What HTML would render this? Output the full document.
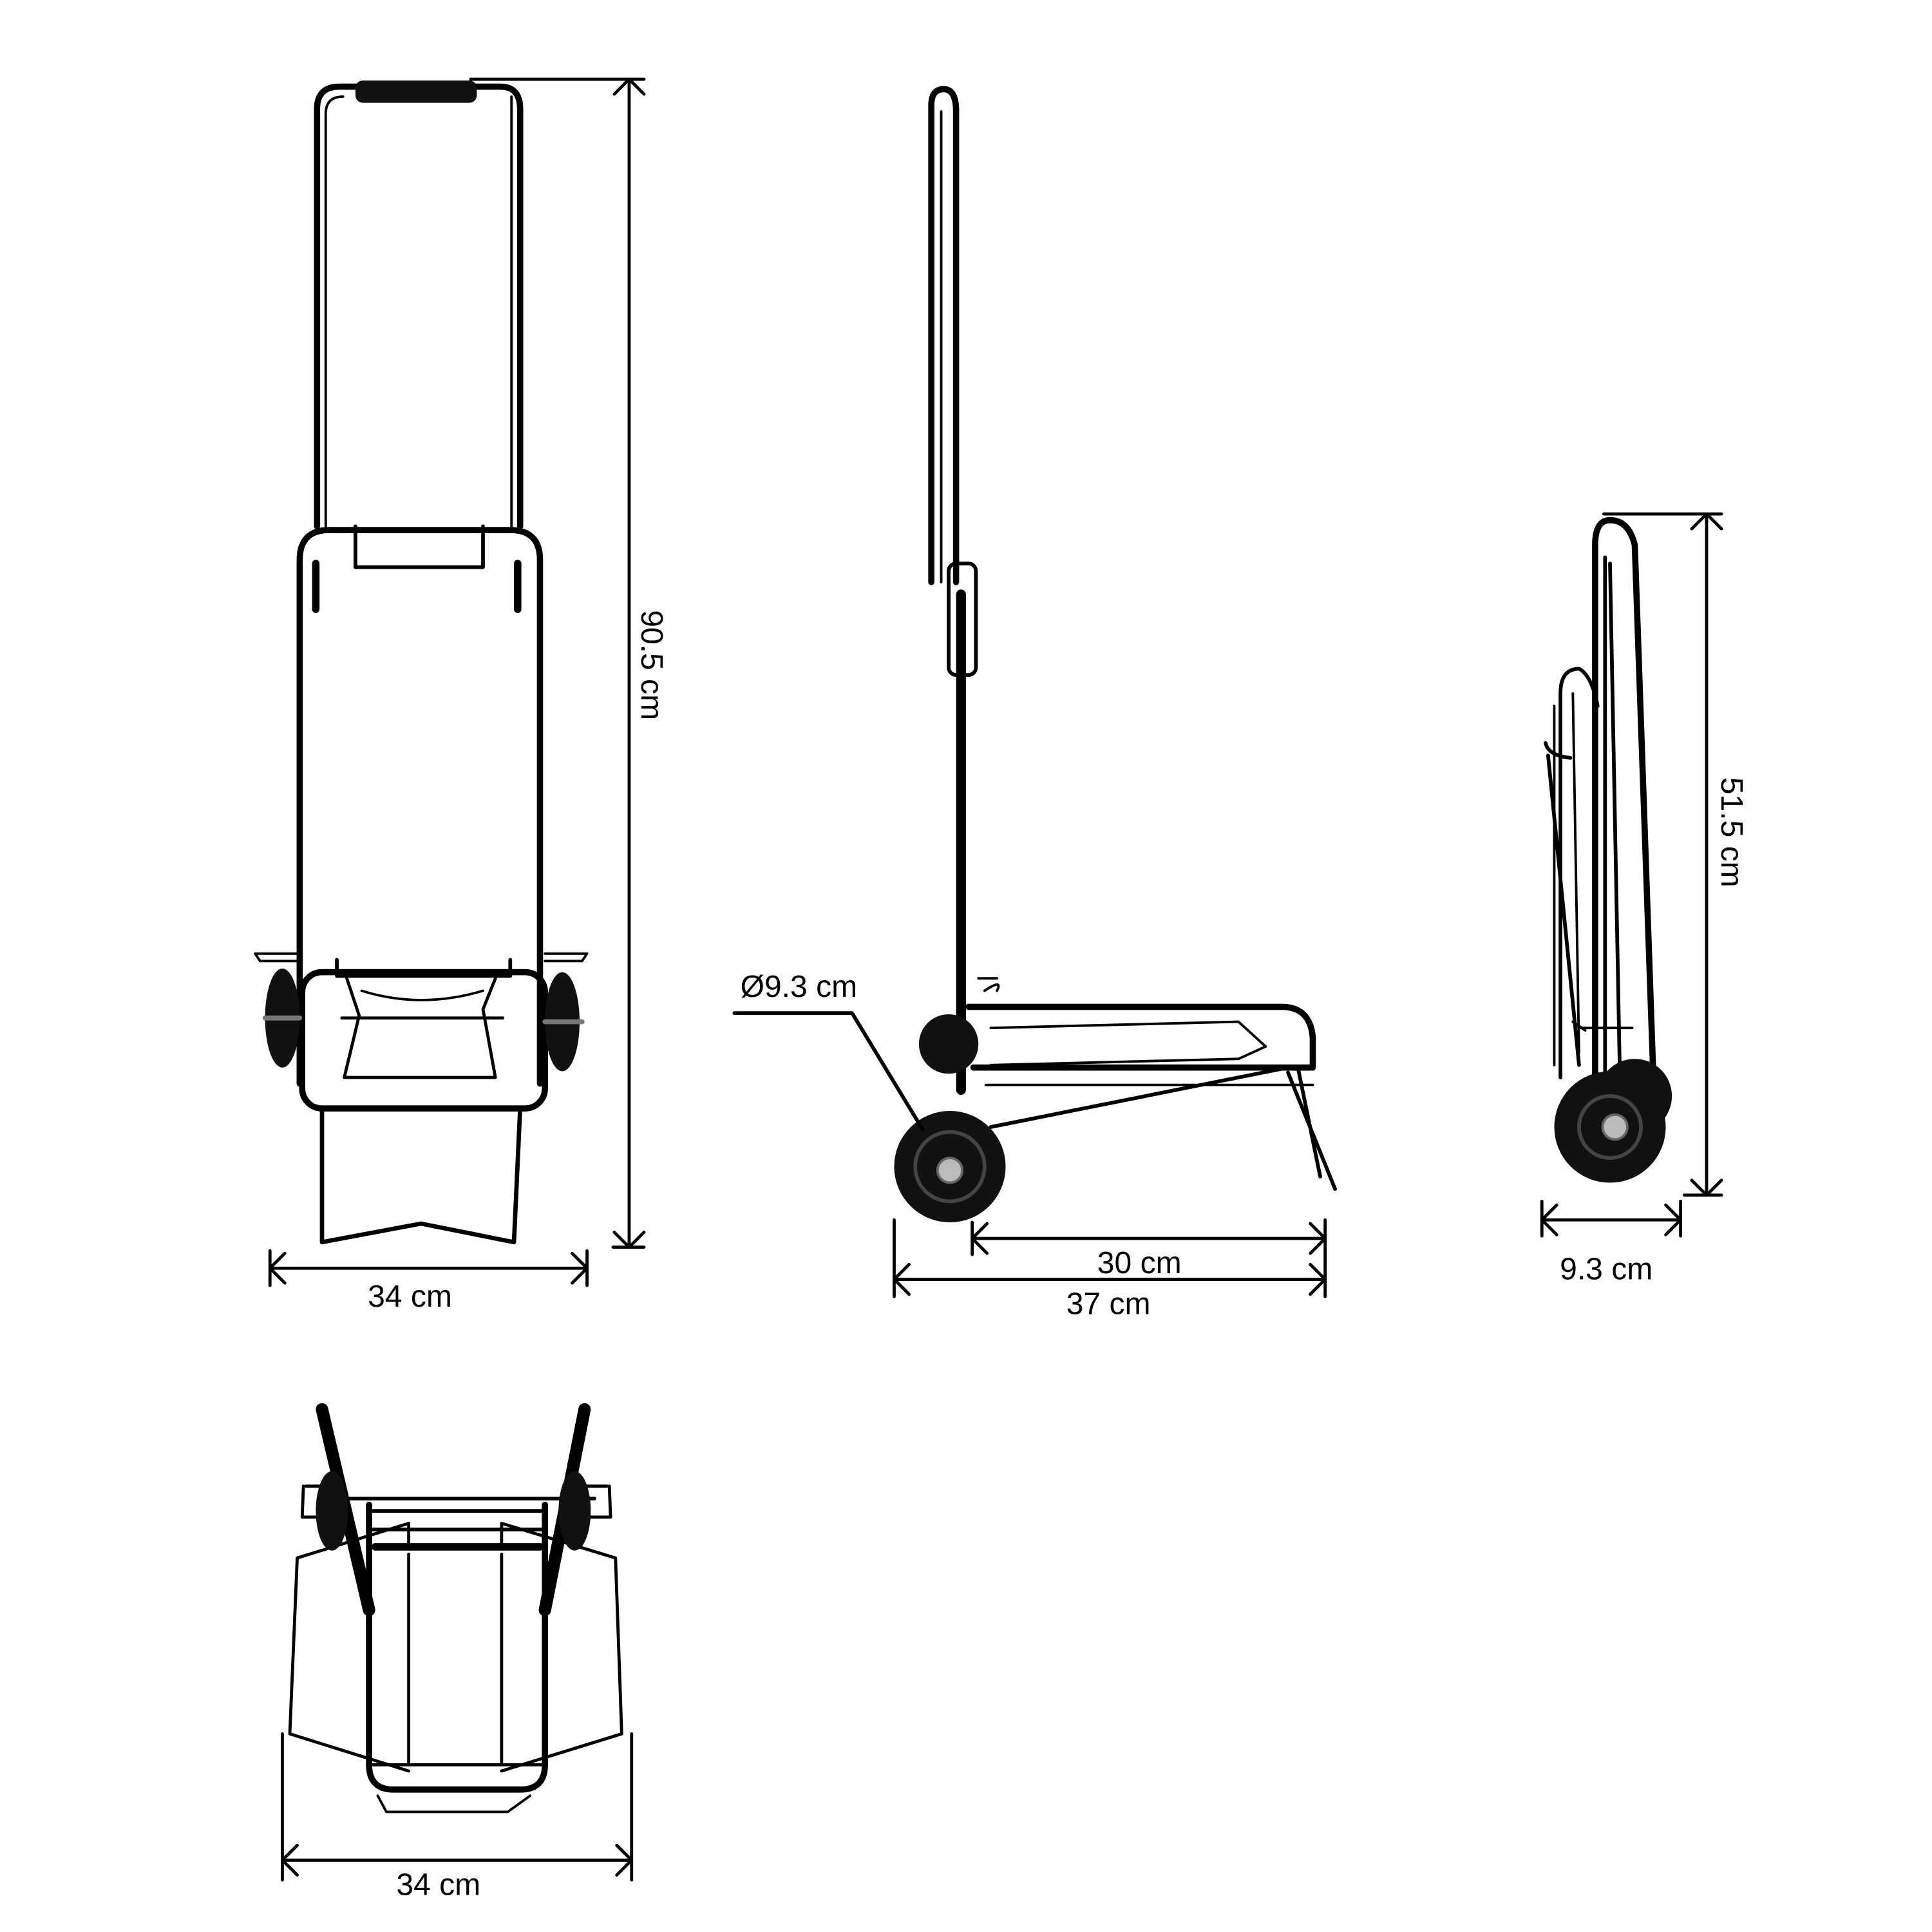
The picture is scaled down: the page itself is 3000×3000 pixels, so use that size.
<!DOCTYPE html>
<html><head><style>
html,body{margin:0;padding:0;background:#fff;}
svg{display:block;}
text{font-family:"Liberation Sans",sans-serif;fill:#000;}
</style></head><body>
<svg width="3000" height="3000" viewBox="0 0 1560 1560" xmlns="http://www.w3.org/2000/svg">
<rect width="1560" height="1560" fill="#fff"/>
<g fill="none" stroke="#000" stroke-linecap="round" stroke-linejoin="round">
<!-- FRONT VIEW -->
<path d="M256 425 V88 Q256 70 274 70 H404 Q420 70 420 88 V425" stroke-width="5"/>
<path d="M263 425 V92 Q263 78 277 78 M413 78 Q413 80 413 92 V425" stroke-width="2"/>
<rect x="287" y="65" width="98" height="18" rx="6" fill="#111" stroke="none"/>
<path d="M242 875 V452 Q242 428 266 428 H412 Q436 428 436 452 V875" stroke-width="5"/>
<path d="M287 425 V458 H390 V425" stroke-width="3"/>
<path d="M255 455 V492 M418 455 V492" stroke-width="6"/>
<path d="M272 775 V788 H412 V775" stroke-width="3"/>
<path d="M206 770 H240 M440 770 H474 M206 770 L210 776 H240 M474 770 L470 776 H440" stroke-width="2"/>
<rect x="244" y="785" width="196" height="110" rx="16" stroke-width="5"/>
<path d="M280 790 L290 820 L278 870 H400 L390 815 L400 790 M276 822 H406" stroke-width="2.5"/>
<path d="M292 800 Q340 815 390 800" stroke-width="2"/>
<ellipse cx="228" cy="822" rx="14" ry="40" fill="#111" stroke="none"/>
<ellipse cx="454" cy="825" rx="14" ry="40" fill="#111" stroke="none"/>
<path d="M214 822 H242 M440 825 H470" stroke-width="4" stroke="#777"/>
<path d="M260 895 V1003 L340 988 L415 1003 L420 895" stroke-width="3.5"/>
<!-- dims front -->
<path d="M508 64 V1007 M380 64 H520 M495 1007 H520 M496 76 L508 64 L520 76 M496 995 L508 1007 L520 995" stroke-width="2.5"/>
<path d="M218 1024 H474 M218 1010 V1038 M474 1010 V1038 M230 1012 L218 1024 L230 1036 M462 1012 L474 1024 L462 1036" stroke-width="2.5"/>
<!-- SIDE VIEW -->
<path d="M752 470 V85 Q752 72 762 72 Q772 72 772 90 V470" stroke-width="5"/>
<path d="M760 470 V90" stroke-width="2"/>
<path d="M776 480 V880" stroke-width="8"/>
<rect x="766" y="455" width="22" height="90" rx="6" stroke-width="3"/>
<path d="M782 813 H1035 Q1058 813 1060 838 V862 H786" stroke-width="5"/>
<path d="M800 830 L1000 825 L1022 845 L1000 855 L800 860 M796 876 H1060" stroke-width="2"/>
<path d="M790 790 H805 M795 800 Q810 790 805 800" stroke-width="2"/>
<path d="M1040 866 L1078 960 M1048 862 L1066 950" stroke-width="3"/>
<path d="M800 910 L1040 862" stroke-width="3"/>
<circle cx="766" cy="843" r="24" fill="#111" stroke="none"/>
<circle cx="767" cy="942" r="45" fill="#111" stroke="none"/>
<circle cx="767" cy="942" r="28" stroke="#444" stroke-width="3"/>
<circle cx="767" cy="945" r="10" fill="#bbb" stroke="#666" stroke-width="2"/>
<path d="M593 818 H688 L745 912" stroke-width="3"/>
<path d="M785 1000 H1070 M785 987 V1013 M1070 985 V1047 M797 988 L785 1000 L797 1012 M1058 988 L1070 1000 L1058 1012" stroke-width="2.5"/>
<path d="M722 1033 H1070 M722 985 V1047 M734 1021 L722 1033 L734 1045 M1058 1021 L1070 1033 L1058 1045" stroke-width="2.5"/>
<!-- FOLDED VIEW -->
<path d="M1288 870 V440 Q1288 420 1300 420 Q1315 420 1320 440 L1335 870" stroke-width="5"/>
<path d="M1296 870 V450 M1308 870 L1300 455" stroke-width="3"/>
<path d="M1260 870 V560 Q1260 540 1275 540 Q1285 545 1290 570 M1250 610 L1275 860 M1248 600 Q1250 610 1268 612" stroke-width="3"/>
<path d="M1255 570 V860 M1270 560 L1275 850" stroke-width="2"/>
<path d="M1275 830 H1318 M1270 825 L1280 832" stroke-width="2"/>
<circle cx="1320" cy="885" r="30" fill="#111" stroke="none"/>
<circle cx="1300" cy="910" r="45" fill="#111" stroke="none"/>
<circle cx="1300" cy="910" r="25" stroke="#444" stroke-width="3"/>
<circle cx="1304" cy="910" r="10" fill="#bbb" stroke="#666" stroke-width="2"/>
<path d="M1378 415 V965 M1295 415 H1390 M1360 965 H1390 M1366 427 L1378 415 L1390 427 M1366 953 L1378 965 L1390 953" stroke-width="2.5"/>
<path d="M1245 985 H1357 M1245 970 V998 M1357 970 V998 M1257 973 L1245 985 L1257 997 M1345 973 L1357 985 L1345 997" stroke-width="2.5"/>
<!-- BOTTOM VIEW -->
<path d="M260 1138 L298 1300 M472 1138 L440 1300" stroke-width="10"/>
<path d="M298 1215 V1425 Q298 1445 318 1445 H420 Q440 1445 440 1425 V1215" stroke-width="5"/>
<path d="M300 1220 H440 M300 1235 H440 M268 1210 H480" stroke-width="3"/>
<path d="M303 1249 H436" stroke-width="6"/>
<path d="M330 1255 V1425 M405 1255 V1425 M300 1425 H440" stroke-width="2.5"/>
<path d="M305 1450 L312 1463 H410 L428 1450" stroke-width="2"/>
<path d="M330 1250 V1230 L240 1258 L234 1400 L330 1430 M405 1250 V1230 L497 1258 L502 1400 L405 1430" stroke-width="2.5"/>
<path d="M247 1200 H275 M245 1200 L244 1225 H268 M490 1200 H462 M492 1200 L493 1225 H470" stroke-width="2.5"/>
<ellipse cx="268" cy="1220" rx="13" ry="32" fill="#111" stroke="none"/>
<ellipse cx="464" cy="1220" rx="13" ry="32" fill="#111" stroke="none"/>
<path d="M228 1502 H510 M228 1400 V1518 M510 1400 V1518 M240 1490 L228 1502 L240 1514 M498 1490 L510 1502 L498 1514" stroke-width="2.5"/>
</g>
<text x="331" y="1055" font-size="25" text-anchor="middle">34 cm</text>
<text x="0" y="0" font-size="25" text-anchor="middle" transform="translate(518 537) rotate(90)">90.5 cm</text>
<text x="645" y="805" font-size="25" text-anchor="middle">Ø9.3 cm</text>
<text x="920" y="1028" font-size="25" text-anchor="middle">30 cm</text>
<text x="895" y="1061" font-size="25" text-anchor="middle">37 cm</text>
<text x="0" y="0" font-size="25" text-anchor="middle" transform="translate(1390 672) rotate(90)">51.5 cm</text>
<text x="1297" y="1033" font-size="25" text-anchor="middle">9.3 cm</text>
<text x="354" y="1530" font-size="25" text-anchor="middle">34 cm</text>
</svg>
</body></html>
